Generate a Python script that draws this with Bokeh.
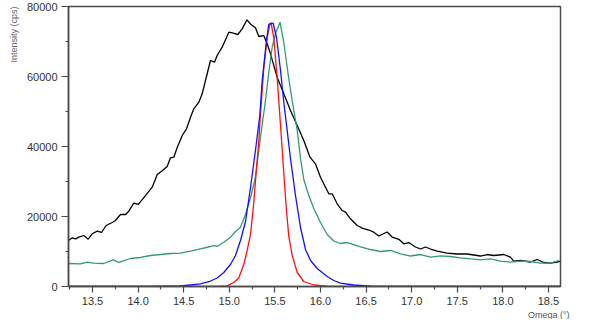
from bokeh.plotting import figure
from bokeh.models import Range1d, FixedTicker, PrintfTickFormatter, Title
from bokeh.embed import file_html
from bokeh.resources import INLINE

# ---- data ----
black_x = [13.237, 13.278, 13.314, 13.350, 13.405, 13.453, 13.497, 13.552, 13.599, 13.650,
           13.716, 13.752, 13.807, 13.862, 13.898, 13.953, 14.001, 14.052, 14.111, 14.155,
           14.210, 14.268, 14.319, 14.355, 14.392, 14.429, 14.484, 14.531, 14.575, 14.611,
           14.666, 14.703, 14.739, 14.794, 14.838, 14.867, 14.922, 14.995, 15.043, 15.093,
           15.142, 15.194, 15.238, 15.287, 15.324, 15.378, 15.416, 15.452, 15.525, 15.598,
           15.671, 15.745, 15.817, 15.885, 15.945, 16.000, 16.055, 16.091, 16.128, 16.183,
           16.238, 16.274, 16.329, 16.403, 16.457, 16.530, 16.585, 16.639, 16.731, 16.786,
           16.859, 16.914, 16.968, 17.042, 17.097, 17.151, 17.206, 17.280, 17.389, 17.499,
           17.609, 17.755, 17.828, 17.900, 18.010, 18.083, 18.120, 18.193, 18.303, 18.376,
           18.449, 18.522, 18.596, 18.632]
black_y = [13140, 13910, 13630, 14090, 14570, 13510, 15060, 15800, 15430, 17430,
           18280, 18860, 20570, 20570, 21510, 23800, 23430, 25060, 26940, 28370,
           32000, 33140, 34280, 36770, 36940, 39700, 43140, 45050, 48370, 50770,
           52650, 55050, 58850, 64570, 64080, 66000, 68370, 72650, 72370, 72000,
           73620, 76200, 74850, 73910, 71430, 71710, 69340, 66480, 59800, 55050,
           50280, 46000, 41710, 36940, 35050, 31230, 28370, 26480, 26480, 23630,
           21710, 21230, 19340, 17430, 16660, 16140, 15510, 14430, 15570, 14140,
           13490, 12200, 12570, 11290, 10710, 11290, 10710, 10090, 9510, 9290,
           9290, 8710, 9140, 8860, 9140, 8370, 7230, 7430, 7000, 7710,
           6860, 6660, 6940, 7230]

green_x = [13.237, 13.369, 13.442, 13.514, 13.624, 13.727, 13.789, 13.917, 14.026, 14.136,
           14.246, 14.355, 14.465, 14.575, 14.684, 14.794, 14.830, 14.867, 14.940, 15.013,
           15.068, 15.123, 15.178, 15.233, 15.287, 15.342, 15.397, 15.433, 15.470, 15.507,
           15.556, 15.598, 15.649, 15.693, 15.745, 15.781, 15.817, 15.872, 15.927, 16.000,
           16.074, 16.146, 16.219, 16.293, 16.348, 16.439, 16.548, 16.658, 16.768, 16.877,
           16.987, 17.097, 17.206, 17.316, 17.426, 17.535, 17.645, 17.755, 17.865, 17.974,
           18.084, 18.193, 18.303, 18.413, 18.522, 18.613]
green_y = [6570, 6490, 6940, 6660, 6570, 7630, 6860, 8000, 8290, 8860,
           9140, 9430, 9510, 10090, 10770, 11430, 11710, 11430, 12660, 14090,
           15710, 16940, 20570, 25430, 31140, 42660, 53140, 61140, 68280, 72280,
           75510, 69710, 60000, 52570, 44570, 36570, 30570, 26000, 22280, 18280,
           14860, 13000, 12290, 12570, 12140, 11340, 10570, 10000, 10290, 9340,
           8710, 9140, 8370, 8770, 8570, 8200, 7910, 7630, 7910, 7230,
           6940, 7230, 7140, 6660, 6660, 7430]

blue_x = [13.237, 14.136, 14.465, 14.684, 14.794, 14.867, 14.940, 15.013, 15.068, 15.123,
          15.178, 15.233, 15.287, 15.335, 15.361, 15.408, 15.433, 15.457, 15.482, 15.518,
          15.562, 15.598, 15.635, 15.671, 15.726, 15.781, 15.836, 15.891, 15.964, 16.074,
          16.146, 16.219, 16.365, 16.548, 16.877, 18.632]
blue_y = [0, 0, 140, 770, 1570, 2430, 4000, 6290, 8860, 13140,
          18570, 28280, 38860, 48860, 58860, 70280, 74860, 75280, 75140, 71140,
          61710, 52570, 44570, 36570, 26000, 16860, 10570, 7430, 5140, 2860,
          1710, 940, 430, 90, 0, 0]

red_x = [13.237, 14.849, 14.977, 15.049, 15.104, 15.159, 15.196, 15.233, 15.269, 15.298,
         15.324, 15.342, 15.379, 15.416, 15.444, 15.460, 15.488, 15.525, 15.562, 15.598,
         15.627, 15.653, 15.690, 15.745, 15.817, 15.927, 16.074, 16.219, 18.632]
red_y = [0, 0, 200, 1140, 2430, 6290, 10290, 14860, 24000, 33710,
         41710, 49430, 62570, 71140, 74860, 75050, 71140, 59710, 46000, 32280,
         21710, 14280, 8860, 4000, 1430, 430, 90, 0, 0]

x_major = [13.5, 14.0, 14.5, 15.0, 15.5, 16.0, 16.5, 17.0, 17.5, 18.0, 18.5]
x_minor = [13.25, 13.75, 14.25, 14.75, 15.25, 15.75, 16.25, 16.75, 17.25, 17.75, 18.25]
y_major = [0, 20000, 40000, 60000, 80000]
y_minor = [10000, 30000, 50000, 70000]

x_label = "Omega (°)"
y_label = "Intensity (cps)"

FONT = "Liberation Sans"
AX = "#4a4a4a"

p = figure(frame_width=492, frame_height=280,
           x_range=Range1d(13.237, 18.632), y_range=Range1d(0, 80000),
           output_backend="svg", toolbar_location=None,
           min_border_left=68, min_border_right=20, min_border_top=6, min_border_bottom=10)
p.background_fill_color = "white"
p.border_fill_color = "white"
p.outline_line_color = AX
p.outline_line_width = 1.5
p.xgrid.visible = False
p.ygrid.visible = False

p.line(black_x, black_y, line_color="#000000", line_width=1.3)
p.line(green_x, green_y, line_color="#339a6c", line_width=1.3)
p.line(red_x, red_y, line_color="#ff1010", line_width=1.3)
p.line(blue_x, blue_y, line_color="#1010ff", line_width=1.3)

for ax, maj, mnr in ((p.xaxis[0], x_major, x_minor), (p.yaxis[0], y_major, y_minor)):
    ax.ticker = FixedTicker(ticks=maj, minor_ticks=mnr)
    ax.axis_line_color = AX
    ax.axis_line_width = 1.5
    ax.major_tick_line_color = AX
    ax.minor_tick_line_color = AX
    ax.major_tick_line_width = 1.2
    ax.minor_tick_line_width = 1.2
    ax.major_tick_in = 0
    ax.minor_tick_in = 0
    ax.major_tick_out = 6
    ax.minor_tick_out = 3
    ax.major_label_text_font = FONT
    ax.major_label_text_font_size = "11px"
    ax.major_label_text_color = "#333333"
    ax.major_label_standoff = 4

p.xaxis[0].formatter = PrintfTickFormatter(format="%.1f")
p.yaxis[0].formatter = PrintfTickFormatter(format="%d")
p.yaxis[0].major_tick_out = 7

p.add_layout(Title(text=x_label, align="right", text_font=FONT, text_font_size="9px",
                   text_font_style="normal", text_color="#555555", standoff=0, offset=-9), "below")
p.add_layout(Title(text=y_label, align="right", text_font=FONT, text_font_size="9px",
                   text_font_style="normal", text_color="#666666", standoff=9), "left")

open("out.html", "w").write(file_html(p, INLINE))
